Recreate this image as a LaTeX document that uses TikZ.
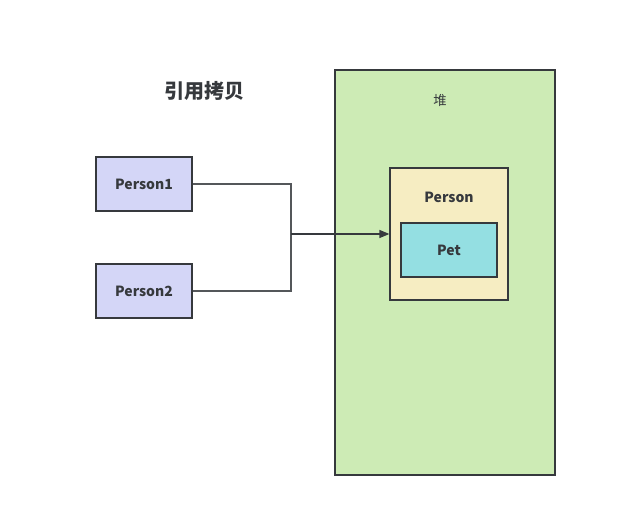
\documentclass[tikz,border=0pt]{standalone}
\usepackage{fontspec}
\setmainfont{Noto Sans CJK SC}
\usepackage{tikz}
\usetikzlibrary{positioning}
\usetikzlibrary{arrows.meta}
\definecolor{bluebox}{RGB}{212,214,247}
\definecolor{heapgreen}{RGB}{205,235,181}
\definecolor{objyellow}{RGB}{246,237,194}
\definecolor{petcyan}{RGB}{148,223,226}
\definecolor{edgegray}{RGB}{54,57,61}

\begin{document}
\begin{tikzpicture}[
    x=0.75pt, y=-0.75pt,
    box/.style={draw=edgegray, line width=0.9pt, minimum width=72pt, minimum height=40.5pt, align=center, font=\bfseries\fontsize{10.5}{12}\selectfont, text=edgegray},
    link/.style={draw=edgegray!85, line width=0.8pt},
    arrow/.style={-{Triangle[length=7.5pt, width=6pt]}, draw=edgegray, line width=0.9pt}
]
  \useasboundingbox (0,0) rectangle (631,509);

  % Title
  \node[font=\bfseries\fontsize{15}{17}\selectfont, text=edgegray] (title) at (204,91) {引用拷贝};

  % References (left)
  \node[box, fill=bluebox] (p1) at (144,184) {Person1};
  \node[box, fill=bluebox] (p2) at (144,291) {Person2};

  % Heap
  \node[box, fill=heapgreen, minimum width=165pt, minimum height=303.75pt] (heap) at (445,272.5) {};
  \node[font=\fontsize{10}{12}\selectfont, text=edgegray] (heaplabel) at (440,100) {堆};

  % Person object with Pet inside
  \node[box, fill=objyellow, minimum width=88.5pt, minimum height=99pt] (person) at (449,234) {};
  \node[font=\bfseries\fontsize{10.5}{12}\selectfont, text=edgegray] (personlabel) at (449,197) {Person};
  \node[box, fill=petcyan] (pet) at (449,250) {Pet};

  % Connectors
  \coordinate (join) at (291,234);
  \draw[link] (p1.east) -| (join);
  \draw[link] (p2.east) -| (join);
  \draw[arrow] (join) -- (person.west);

\end{tikzpicture}
\end{document}
